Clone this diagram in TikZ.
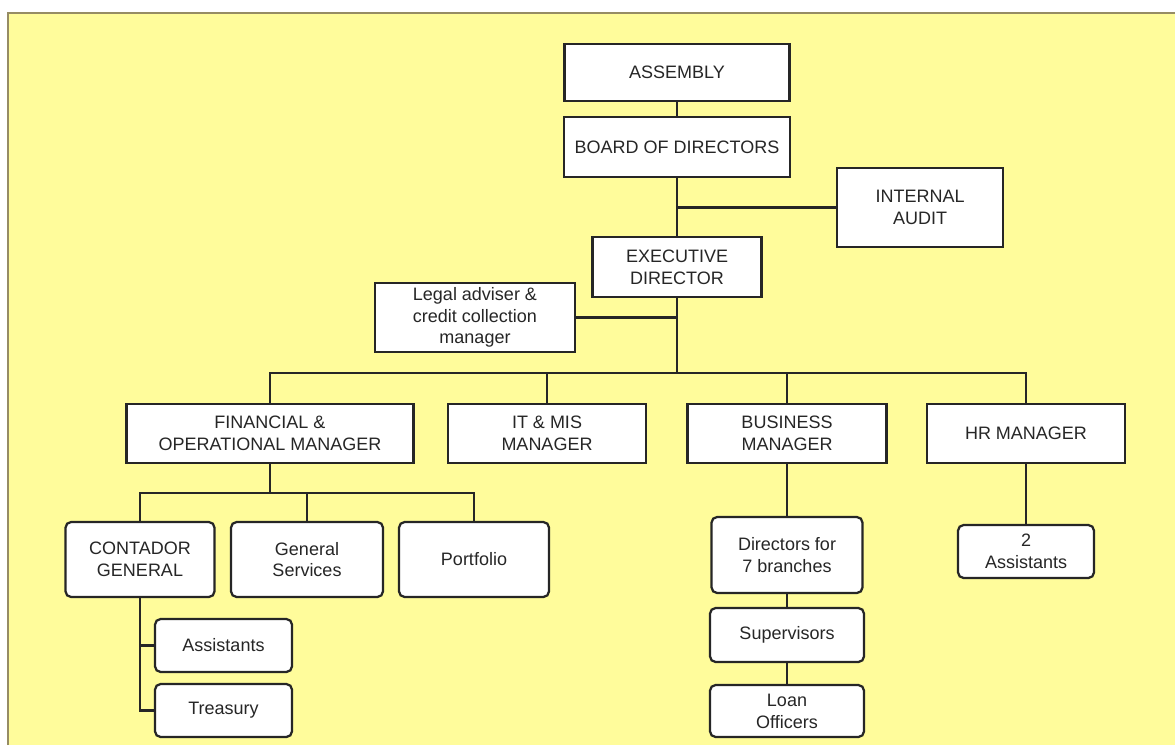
\documentclass[tikz,border=0pt]{standalone}
\usepackage{fontspec}
\setmainfont{Liberation Sans}
\usepackage{tikz}
\usetikzlibrary{positioning}
\definecolor{chartbg}{RGB}{255,252,155}
\definecolor{framegray}{RGB}{150,140,100}
\definecolor{inkgray}{RGB}{38,38,38}
\newcommand{\pxl}{0.025cm}

\begin{document}
\begin{tikzpicture}[x=\pxl,y=-\pxl,
  box/.style 2 args={draw=inkgray,fill=white,line width=1.6pt,text=inkgray,align=center,
    minimum width=#1*\pxl,minimum height=#2*\pxl,inner sep=0pt,
    font=\fontsize{12.8}{15.5}\selectfont},
  rbox/.style 2 args={box={#1}{#2},rounded corners=4pt},
  link/.style={draw=inkgray,line width=1.6pt}]

% page and yellow sheet
\useasboundingbox (0,0) rectangle (1175,745);
\fill[chartbg] (8,13) rectangle (1175,745);
\draw[framegray,line width=1.5pt] (8,745) -- (8,13) -- (1175,13);

% top of the chart
\node[box={225}{57}] (assembly) at (677,72.5) {ASSEMBLY};
\node[box={226}{60}] (board) at (677,147) {BOARD OF DIRECTORS};
\node[box={166}{79}] (audit) at (920,207.5) {INTERNAL\\AUDIT};
\node[box={169}{60}] (exec) at (677,267) {EXECUTIVE\\DIRECTOR};
\node[box={200}{69}] (legal) at (475,317.5) {Legal adviser \&\\credit collection\\manager};

% managers
\node[box={287}{59}] (fin) at (270,433.5) {FINANCIAL \&\\OPERATIONAL MANAGER};
\node[box={198}{59}] (itmis) at (547,433.5) {IT \& MIS\\MANAGER};
\node[box={199}{59}] (busmgr) at (787,433.5) {BUSINESS\\MANAGER};
\node[box={198}{59}] (hr) at (1026,433.5) {HR MANAGER};

% staff
\node[rbox={149}{75}] (contador) at (140,559.5) {CONTADOR\\GENERAL};
\node[rbox={152}{75}] (gensrv) at (307,559.5) {General\\Services};
\node[rbox={150}{75}] (portf) at (474,559.5) {Portfolio};
\node[rbox={137}{53}] (assist1) at (223.5,645.5) {Assistants};
\node[rbox={137}{53}] (treas) at (223.5,710.5) {Treasury};
\node[rbox={151}{76}] (dirs) at (787,555) {Directors for\\7 branches};
\node[rbox={154}{54}] (superv) at (787,635) {Supervisors};
\node[rbox={154}{52}] (loan) at (787,711) {Loan\\Officers};
\node[rbox={136}{53}] (hrassist) at (1026,551.5) {2\\Assistants};

\coordinate (spine) at (677,373);
\coordinate (finbus) at (270,493);

% connectors
\draw[link] (assembly) -- (board);
\draw[link] (board) -- (exec);
\draw[link] (audit.west) -- (audit.west -| exec.north);
\draw[link] (legal.east) -- (legal.east -| exec.south);
\draw[link] (exec) -- (spine);
\draw[link] (fin.north) |- (spine) -| (hr.north);
\foreach \n in {itmis,busmgr}
  \draw[link] (\n.north) -- (\n.north |- spine);
\draw[link] (fin) -- (finbus);
\draw[link] (contador.north) |- (finbus) -| (portf.north);
\draw[link] (gensrv.north) -- (gensrv.north |- finbus);
\draw[link] (contador.south) |- (treas.west);
\draw[link] (assist1.west) -- (assist1.west -| contador.south);
\draw[link] (busmgr) -- (dirs) -- (superv) -- (loan);
\draw[link] (hr) -- (hrassist);
\end{tikzpicture}
\end{document}
